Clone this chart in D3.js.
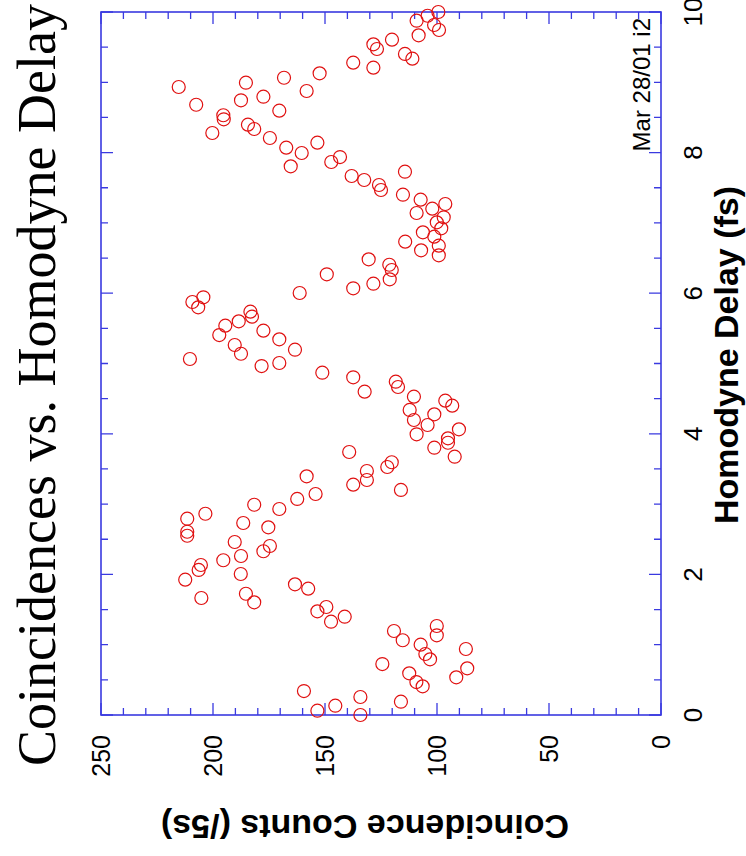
<!DOCTYPE html>
<html>
<head>
<meta charset="utf-8">
<script src="https://cdn.jsdelivr.net/npm/d3@7"></script>
<style>
  body { margin: 0; background: #fff; }
  svg { display: block; }
</style>
</head>
<body>
<div id="chart"></div>
<script>
// Homodyne delay (fs) and coincidence counts (/5s)
const delay = [
  8.933, 8.681, 8.531, 8.474, 8.279, 8.994, 8.744, 8.397, 8.336, 8.795,
  8.596, 9.065, 8.208, 8.070, 7.805, 7.994, 8.141, 8.876, 9.128, 7.866,
  7.937, 9.279, 9.208, 9.540, 9.474, 7.667, 7.610, 7.539, 7.468, 9.606,
  9.876, 9.947, 10.00, 9.815, 9.744, 9.668, 9.403, 9.336, 7.728, 6.482,
  6.269, 6.070, 6.135, 6.003, 5.942, 5.875, 5.799, 5.737, 5.666, 5.600,
  5.538, 5.405, 5.467, 5.344, 5.263, 5.139, 5.196, 5.064, 4.964, 5.007,
  7.401, 7.330, 7.202, 7.269, 7.141, 7.080, 7.008, 6.923, 6.866, 6.804,
  6.733, 6.676, 6.610, 6.539, 6.405, 6.330, 6.198, 4.869, 4.804, 4.599,
  3.741, 3.395, 3.471, 3.343, 3.276, 3.144, 3.073, 2.930, 2.991, 2.863,
  2.792, 2.607, 2.550, 2.731, 2.670, 2.461, 2.404, 4.741, 4.666, 4.528,
  4.339, 4.196, 4.277, 4.471, 4.400, 4.125, 3.993, 4.064, 3.936, 3.873,
  3.802, 3.674, 3.595, 3.528, 3.201, 2.329, 2.201, 2.262, 2.006, 2.134,
  2.063, 1.925, 1.664, 1.725, 1.603, 1.859, 1.797, 1.475, 1.536, 1.327,
  1.398, 0.341, 0.061, 0.132, 0.256, 0.000, 0.725, 1.195, 1.063, 1.000,
  0.868, 0.792, 1.266, 1.134, 0.939, 0.664, 0.536, 0.593, 0.469, 0.408,
  0.189
];
const counts = [
  215.3, 207.5, 195.4, 195.2, 200.3, 185.3, 187.5, 184.4, 181.6, 177.5,
  170.4, 168.3, 174.6, 167.3, 165.3, 160.4, 153.4, 158.2, 152.4, 147.2,
  143.3, 137.4, 128.4, 128.4, 126.8, 138.1, 132.5, 125.9, 125.0, 120.1,
  109.1, 104.2, 99.4, 101.3, 99.1, 108.2, 114.3, 111.0, 114.3, 130.5,
  149.2, 137.4, 128.4, 161.3, 204.3, 209.2, 206.6, 183.3, 182.6, 188.5,
  194.5, 197.2, 177.5, 170.4, 190.3, 187.5, 163.4, 210.3, 178.3, 170.4,
  115.2, 107.3, 102.1, 96.3, 109.1, 97.0, 100.1, 98.1, 106.3, 101.2,
  114.2, 99.2, 107.1, 99.2, 121.3, 120.2, 121.1, 151.2, 137.4, 132.3,
  139.2, 158.2, 131.3, 131.3, 137.4, 154.2, 162.4, 170.4, 181.6, 203.4,
  211.5, 211.5, 211.5, 186.5, 175.3, 190.3, 174.6, 118.4, 117.4, 110.3,
  112.2, 110.3, 101.2, 96.3, 93.2, 104.2, 109.1, 90.2, 95.1, 95.1,
  101.2, 92.1, 120.2, 122.2, 116.1, 177.5, 195.4, 187.5, 187.6, 205.4,
  206.4, 212.4, 205.2, 185.3, 181.6, 163.4, 157.5, 153.4, 149.4, 147.3,
  141.2, 159.4, 153.4, 145.4, 134.2, 134.2, 124.4, 119.2, 115.3, 107.3,
  105.2, 103.1, 100.1, 100.1, 87.1, 86.5, 91.4, 112.4, 109.2, 106.4,
  116.1
];

const delayTicks = [0, 2, 4, 6, 8, 10];
const countTicks = [0, 50, 100, 150, 200, 250];

const title = 'Coincidences vs. Homodyne Delay';
const xLabel = 'Homodyne Delay (fs)';
const yLabel = 'Coincidence Counts (/5s)';
const stamp = 'Mar 28/01 i2';

const width = 746;
const height = 856;
const axisColor = '#3a3ae0';

const svg = d3
  .select('#chart')
  .append('svg')
  .attr('width', width)
  .attr('height', height);

// the whole plot is drawn upright, then turned a quarter turn to the left
const g = svg.append('g').attr('transform', `translate(0, ${height}) rotate(-90)`);

const x = d3.scaleLinear().domain([0, 10]).range([141, 844]);
const y = d3.scaleLinear().domain([0, 250]).range([661, 101]);

const frame = g.append('g').attr('stroke', axisColor).attr('fill', 'none');

frame
  .append('rect')
  .attr('x', x(0))
  .attr('y', y(250))
  .attr('width', x(10) - x(0))
  .attr('height', y(0) - y(250))
  .attr('stroke-width', 1.6);

// ticks on both sides, long at labelled values
const xMinor = d3.range(0, 10.001, 0.5);
const yMinor = d3.range(0, 250.001, 10);

frame
  .selectAll('.xt')
  .data(xMinor)
  .join('path')
  .attr('d', (d) => {
    const len = d % 2 === 0 ? 12 : 7;
    return `M${x(d)},${y(0)}v${-len}M${x(d)},${y(250)}v${len}`;
  })
  .attr('stroke-width', 1.3);

frame
  .selectAll('.yt')
  .data(yMinor)
  .join('path')
  .attr('d', (d) => {
    const len = d % 50 === 0 ? 12 : 7;
    return `M${x(0)},${y(d)}h${len}M${x(10)},${y(d)}h${-len}`;
  })
  .attr('stroke-width', 1.3);

g.append('g')
  .selectAll('text')
  .data(delayTicks)
  .join('text')
  .attr('x', (d) => x(d))
  .attr('y', 702)
  .attr('text-anchor', 'middle')
  .attr('font-family', 'Liberation Sans, Arial, sans-serif')
  .attr('font-size', 26)
  .text((d) => d);

g.append('g')
  .selectAll('text')
  .data(countTicks)
  .join('text')
  .attr('x', 121)
  .attr('y', (d) => y(d))
  .attr('dy', '0.35em')
  .attr('text-anchor', 'end')
  .attr('font-family', 'Liberation Sans, Arial, sans-serif')
  .attr('font-size', 25)
  .text((d) => d);

// points
g.append('g')
  .selectAll('circle')
  .data(delay.map((d, i) => [d, counts[i]]))
  .join('circle')
  .attr('cx', (d) => x(d[0]))
  .attr('cy', (d) => y(d[1]))
  .attr('r', 6.5)
  .attr('fill', 'none')
  .attr('stroke', '#e01010')
  .attr('stroke-width', 1.2);

g.append('text')
  .attr('x', 471)
  .attr('y', 55)
  .attr('text-anchor', 'middle')
  .attr('font-family', 'Liberation Serif, Times New Roman, serif')
  .attr('font-size', 54)
  .text(title);

g.append('text')
  .attr('x', 501)
  .attr('y', 738)
  .attr('text-anchor', 'middle')
  .attr('font-family', 'Liberation Sans, Arial, sans-serif')
  .attr('font-weight', 'bold')
  .attr('font-size', 34)
  .text(xLabel);

g.append('text')
  .attr('transform', 'translate(41, 365) rotate(-90)')
  .attr('text-anchor', 'middle')
  .attr('font-family', 'Liberation Sans, Arial, sans-serif')
  .attr('font-weight', 'bold')
  .attr('font-size', 34)
  .text(yLabel);

g.append('text')
  .attr('x', 838)
  .attr('y', 650)
  .attr('text-anchor', 'end')
  .attr('font-family', 'Liberation Sans, Arial, sans-serif')
  .attr('font-size', 24)
  .text(stamp);
</script>
</body>
</html>
